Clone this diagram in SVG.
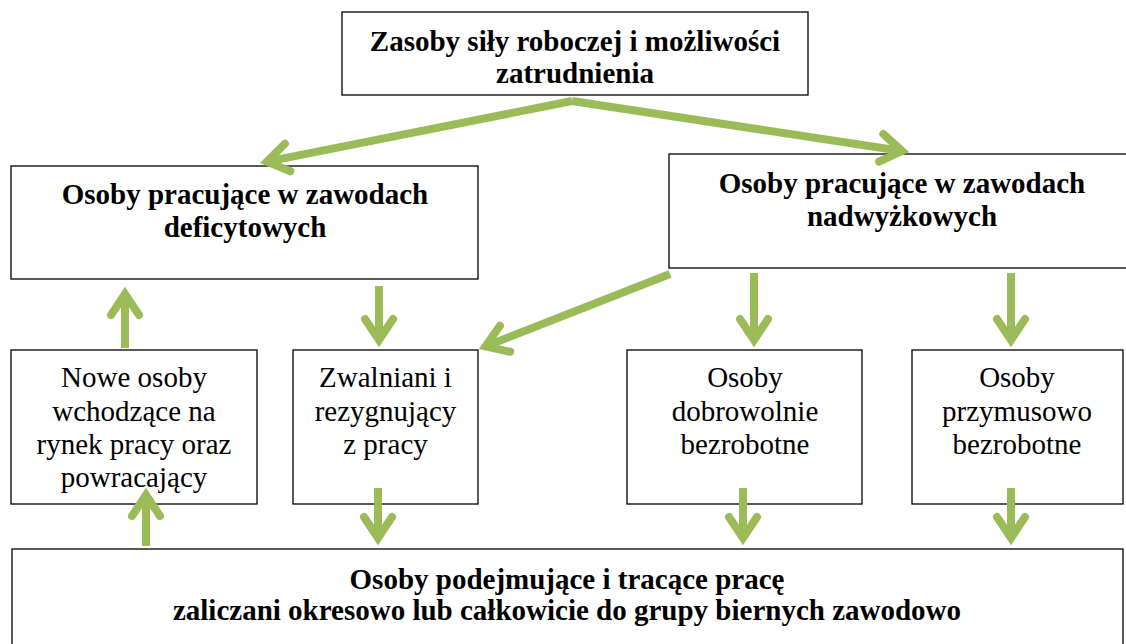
<svg xmlns="http://www.w3.org/2000/svg" width="1126" height="644" viewBox="0 0 1126 644">
<style>
.box{fill:#fff;stroke:#000;stroke-width:1.3}
.t{font-family:"Liberation Serif","Times New Roman",serif;font-size:29px;fill:#000;text-anchor:middle}
.b{font-weight:bold}
.c{fill:none;stroke:#9BBB59;stroke-width:8;stroke-linecap:butt}
</style>
<defs>
<marker id="ah" markerUnits="userSpaceOnUse" markerWidth="60" markerHeight="60" viewBox="-30 -30 60 60" refX="0" refY="0" orient="auto" overflow="visible">
<path d="M-21,-14 L0,0 L-21,14" fill="none" stroke="#9BBB59" stroke-width="8" stroke-linecap="round" stroke-linejoin="miter"/>
</marker>
</defs>
<rect width="1126" height="644" fill="#fff"/>
<g id="n-top">
<rect class="box" x="342" y="12" width="466" height="83"/>
<text class="t b" x="575" y="51">Zasoby siły roboczej i możliwości</text>
<text class="t b" x="575" y="83">zatrudnienia</text>
</g>
<g id="n-def">
<rect class="box" x="11" y="166" width="467" height="113"/>
<text class="t b" x="245" y="204">Osoby pracujące w zawodach</text>
<text class="t b" x="245" y="237">deficytowych</text>
</g>
<g id="n-nad">
<rect class="box" x="669" y="154" width="470" height="114"/>
<text class="t b" x="902" y="193">Osoby pracujące w zawodach</text>
<text class="t b" x="902" y="226">nadwyżkowych</text>
</g>
<g id="n-nowe">
<rect class="box" x="11" y="350" width="246" height="154"/>
<text class="t" x="134" y="387">Nowe osoby</text>
<text class="t" x="134" y="420.5">wchodzące na</text>
<text class="t" x="134" y="454">rynek pracy oraz</text>
<text class="t" x="134" y="487">powracający</text>
</g>
<g id="n-zwal">
<rect class="box" x="293" y="350" width="185" height="154"/>
<text class="t" x="385.5" y="387">Zwalniani i</text>
<text class="t" x="385.5" y="420.5">rezygnujący</text>
<text class="t" x="385.5" y="454">z pracy</text>
</g>
<g id="n-dobr">
<rect class="box" x="627" y="350" width="235" height="154"/>
<text class="t" x="745" y="387">Osoby</text>
<text class="t" x="745" y="420.5">dobrowolnie</text>
<text class="t" x="745" y="454">bezrobotne</text>
</g>
<g id="n-przym">
<rect class="box" x="912" y="350" width="211" height="154"/>
<text class="t" x="1017" y="387">Osoby</text>
<text class="t" x="1017" y="420.5">przymusowo</text>
<text class="t" x="1017" y="454">bezrobotne</text>
</g>
<g id="n-bottom">
<rect class="box" x="12" y="549" width="1111" height="110"/>
<text class="t b" x="567" y="589">Osoby podejmujące i tracące pracę</text>
<text class="t b" x="567" y="620">zaliczani okresowo lub całkowicie do grupy biernych zawodowo</text>
</g>
<g id="connectors">
<line class="c" x1="572" y1="101" x2="267" y2="161.6" marker-end="url(#ah)"/>
<line class="c" x1="572" y1="101" x2="902" y2="151" marker-end="url(#ah)"/>
<line class="c" x1="125" y1="348" x2="125" y2="294" marker-end="url(#ah)"/>
<line class="c" x1="379" y1="286" x2="379" y2="340" marker-end="url(#ah)"/>
<line class="c" x1="670" y1="274" x2="485.5" y2="346.4" marker-end="url(#ah)"/>
<line class="c" x1="754" y1="273" x2="754" y2="340" marker-end="url(#ah)"/>
<line class="c" x1="1011" y1="273" x2="1011" y2="340" marker-end="url(#ah)"/>
<line class="c" x1="146" y1="546" x2="146" y2="495" marker-end="url(#ah)"/>
<line class="c" x1="378" y1="488" x2="378" y2="538" marker-end="url(#ah)"/>
<line class="c" x1="743" y1="488" x2="743" y2="538" marker-end="url(#ah)"/>
<line class="c" x1="1011" y1="488" x2="1011" y2="538" marker-end="url(#ah)"/>
</g>
</svg>
